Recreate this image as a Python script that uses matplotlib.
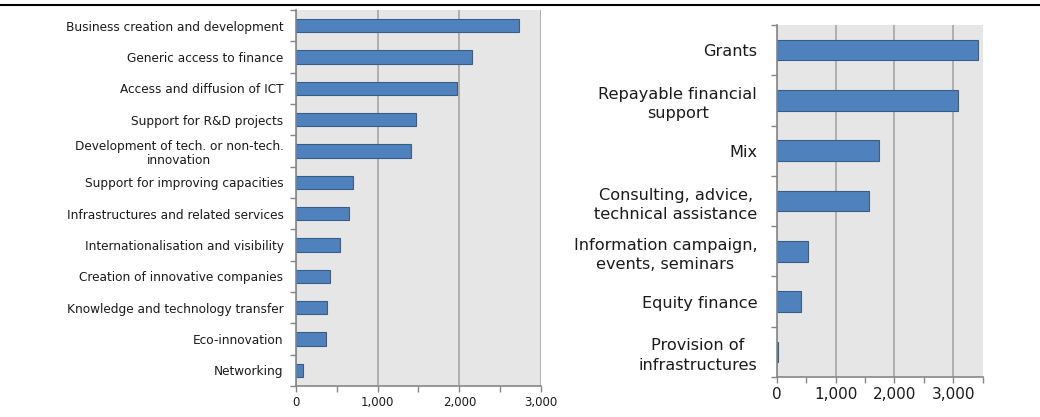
import matplotlib
matplotlib.use("Agg")
import matplotlib.pyplot as plt
from matplotlib.ticker import FuncFormatter, MultipleLocator

# left panel: types of support (top to bottom)
temas = ["Business creation and development", "Generic access to finance",
         "Access and diffusion of ICT", "Support for R&D projects",
         "Development of tech. or non-tech.\ninnovation",
         "Support for improving capacities", "Infrastructures and related services",
         "Internationalisation and visibility", "Creation of innovative companies",
         "Knowledge and technology transfer", "Eco-innovation", "Networking"]
valores_temas = [2735, 2158, 1974, 1475, 1409, 701, 644, 539, 420, 381, 372, 83]

# right panel: instruments (top to bottom)
instrumentos = ["Grants", "Repayable financial\nsupport", "Mix",
                "Consulting, advice,\ntechnical assistance",
                "Information campaign,\nevents, seminars", "Equity finance",
                "Provision of\ninfrastructures"]
valores_instr = [3430, 3085, 1732, 1562, 532, 407, 15]

azul = "#4f81bd"
borde = "#385d8a"
fondo = "#e6e6e6"
rejilla = "#a6a6a6"
eje = "#868686"

fig = plt.figure(figsize=(10.4, 4.17), dpi=100)
ax1 = fig.add_axes([0.2846, 0.0743, 0.2356, 0.9017])
ax2 = fig.add_axes([0.7468, 0.0959, 0.198, 0.8441])

# linea negra superior
fig.add_artist(plt.Line2D([0, 1], [0.988, 0.988], color="black", lw=1.5,
                          transform=fig.transFigure))


def dibujar(ax, etiquetas, valores, xmax, fs_y, fs_x, pad, alto, interlineado):
    n = len(etiquetas)
    pos = list(range(n))
    ax.set_facecolor(fondo)
    ax.barh(pos, valores, height=alto, color=azul, edgecolor=borde, lw=0.8, zorder=3)
    ax.set_ylim(n - 0.5, -0.5)
    ax.set_xlim(0, xmax)
    # separadores de categorias
    ax.set_yticks([i - 0.5 for i in range(n + 1)])
    ax.set_yticklabels([])
    ax.set_yticks(pos, minor=True)
    ax.set_yticklabels(etiquetas, minor=True, fontsize=fs_y, color="#1a1a1a",
                       multialignment="center", linespacing=interlineado)
    ax.tick_params(axis="y", which="major", length=4, color=eje, width=1)
    ax.tick_params(axis="y", which="minor", length=0, pad=pad)
    ax.xaxis.set_major_locator(MultipleLocator(1000))
    ax.xaxis.set_minor_locator(MultipleLocator(500))
    ax.xaxis.set_major_formatter(FuncFormatter(lambda v, p: f"{int(v):,}"))
    ax.tick_params(axis="x", which="both", length=4, color=eje, width=1,
                   labelsize=fs_x, labelcolor="#1a1a1a")
    ax.grid(axis="x", which="major", color=rejilla, lw=1.2, zorder=1)
    for s in ["top", "right"]:
        ax.spines[s].set_visible(False)
    for s in ["left", "bottom"]:
        ax.spines[s].set_color(eje)
        ax.spines[s].set_linewidth(1.2)
        ax.spines[s].set_zorder(4)


dibujar(ax1, temas, valores_temas, 3000, 8.7, 8.5, 9, 0.43, 1.1)
dibujar(ax2, instrumentos, valores_instr, 3500, 11.6, 11, 14, 0.41, 1.35)

fig.savefig("out.png", dpi=100)
